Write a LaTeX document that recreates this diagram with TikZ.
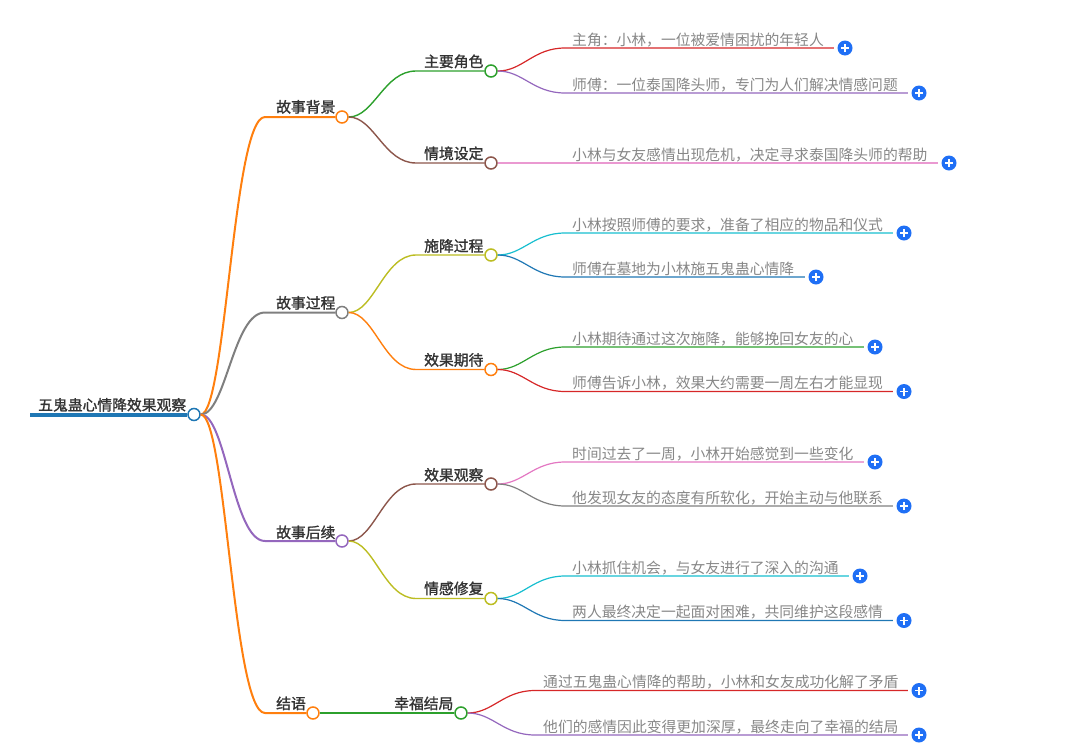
\documentclass[tikz,border=0pt]{standalone}
\usepackage{fontspec}
\setmainfont{Noto Sans CJK SC}
\newfontfamily\topicfont[FakeBold=1.4]{Noto Sans CJK SC}
\definecolor{cblue}{HTML}{1F77B4}
\definecolor{corange}{HTML}{FF7F0E}
\definecolor{cgreen}{HTML}{2CA02C}
\definecolor{cred}{HTML}{D62728}
\definecolor{cpurple}{HTML}{9467BD}
\definecolor{cbrown}{HTML}{8C564B}
\definecolor{cpink}{HTML}{E377C2}
\definecolor{cgrey}{HTML}{7F7F7F}
\definecolor{colive}{HTML}{BCBD22}
\definecolor{cteal}{HTML}{17BECF}
\definecolor{cplus}{HTML}{1F6FF5}
\tikzset{
  topic/.style={anchor=base west, inner sep=0pt, text=black!80, font=\fontsize{14.8pt}{16pt}\selectfont\topicfont},
  leaf/.style={anchor=base west, inner sep=0pt, text=black!47, font=\fontsize{14.8pt}{16pt}\selectfont},
  dot/.style={circle, fill=white, line width=1.5pt, minimum size=12pt, inner sep=0pt},
  plusbtn/.style={circle, fill=cplus, minimum size=15pt, inner sep=0pt, path picture={
      \draw[white, line width=1.3pt] ([xshift=-4pt]path picture bounding box.center) -- ([xshift=4pt]path picture bounding box.center);
      \draw[white, line width=1.3pt] ([yshift=-4pt]path picture bounding box.center) -- ([yshift=4pt]path picture bounding box.center);}},
  rootline/.style={line width=2pt},
  midline/.style={line width=1.4pt},
  leafline/.style={line width=1.2pt, shorten >=3.5pt},
}
\begin{document}
\begin{tikzpicture}[x=1pt, y=-1pt]
  \useasboundingbox (0,0) rectangle (1080,753);
  % root
  \node[topic] (root) at (38,410.5) {五鬼蛊心情降效果观察};
  \node[dot, draw=cblue] (rootdot) at (194,414.5) {};
  \coordinate (rootstart) at (30,414.5);
  \draw[cblue, line width=4pt] (rootstart) -- (rootdot);

  % first level
  \node[topic] (bg) at (276,112.5) {故事背景};
  \node[topic] (gc) at (276,308.5) {故事过程};
  \node[topic] (hx) at (276,538) {故事后续};
  \node[topic] (jy) at (276,709) {结语};
  \node[dot, draw=corange] (bgdot) at (342,117) {};
  \node[dot, draw=cgrey] (gcdot) at (342,312.5) {};
  \node[dot, draw=cpurple] (hxdot) at (342,541) {};
  \node[dot, draw=corange] (jydot) at (313,713) {};
  \coordinate (bgs) at (265,117);
  \coordinate (gcs) at (265,312.5);
  \coordinate (hxs) at (265,541);
  \coordinate (jys) at (265,713);
  \draw[corange, rootline] (rootdot) .. controls +(32,0) and +(-32,0) .. (bgs) -- (bgdot);
  \draw[cgrey, rootline] (rootdot) .. controls +(32,0) and +(-32,0) .. (gcs) -- (gcdot);
  \draw[cpurple, rootline] (rootdot) .. controls +(32,0) and +(-32,0) .. (hxs) -- (hxdot);
  \draw[corange, rootline] (rootdot) .. controls +(32,0) and +(-32,0) .. (jys) -- (jydot);

  % second level
  \node[topic] (zy) at (424,67) {主要角色};
  \node[topic] (qj) at (424,159) {情境设定};
  \node[topic] (sj) at (424,251.5) {施降过程};
  \node[topic] (xq) at (424,365.5) {效果期待};
  \node[topic] (xg) at (424,480.5) {效果观察};
  \node[topic] (qg) at (424,594) {情感修复};
  \node[topic] (xf) at (394,709) {幸福结局};
  \node[dot, draw=cgreen] (zydot) at (491,71) {};
  \node[dot, draw=cbrown] (qjdot) at (491,163) {};
  \node[dot, draw=colive] (sjdot) at (491,255) {};
  \node[dot, draw=corange] (xqdot) at (491,369.5) {};
  \node[dot, draw=cbrown] (xgdot) at (491,484) {};
  \node[dot, draw=colive] (qgdot) at (491,598.5) {};
  \node[dot, draw=cgreen] (xfdot) at (461,713) {};
  \coordinate (zys) at (416,71);
  \coordinate (qjs) at (416,163);
  \coordinate (sjs) at (416,255);
  \coordinate (xqs) at (416,369.5);
  \coordinate (xgs) at (416,484);
  \coordinate (qgs) at (416,598.5);
  \draw[cgreen, midline] (bgdot) .. controls +(32,0) and +(-32,0) .. (zys) -- (zydot);
  \draw[cbrown, midline] (bgdot) .. controls +(32,0) and +(-32,0) .. (qjs) -- (qjdot);
  \draw[colive, midline] (gcdot) .. controls +(32,0) and +(-32,0) .. (sjs) -- (sjdot);
  \draw[corange, midline] (gcdot) .. controls +(32,0) and +(-32,0) .. (xqs) -- (xqdot);
  \draw[cbrown, midline] (hxdot) .. controls +(32,0) and +(-32,0) .. (xgs) -- (xgdot);
  \draw[colive, midline] (hxdot) .. controls +(32,0) and +(-32,0) .. (qgs) -- (qgdot);
  \draw[cgreen, midline] (jydot) -- (xfdot);

  % leaves
  \node[leaf] (a) at (572,45) {主角：小林，一位被爱情困扰的年轻人};
  \node[leaf] (b) at (572,90) {师傅：一位泰国降头师，专门为人们解决情感问题};
  \node[leaf] (c) at (572,160) {小林与女友感情出现危机，决定寻求泰国降头师的帮助};
  \node[leaf] (d) at (572,230) {小林按照师傅的要求，准备了相应的物品和仪式};
  \node[leaf] (e) at (572,274) {师傅在墓地为小林施五鬼蛊心情降};
  \node[leaf] (f) at (572,344) {小林期待通过这次施降，能够挽回女友的心};
  \node[leaf] (g) at (572,388) {师傅告诉小林，效果大约需要一周左右才能显现};
  \node[leaf] (h) at (572,459) {时间过去了一周，小林开始感觉到一些变化};
  \node[leaf] (i) at (572,503) {他发现女友的态度有所软化，开始主动与他联系};
  \node[leaf] (j) at (572,573) {小林抓住机会，与女友进行了深入的沟通};
  \node[leaf] (k) at (572,617) {两人最终决定一起面对困难，共同维护这段感情};
  \node[leaf] (l) at (543,687) {通过五鬼蛊心情降的帮助，小林和女友成功化解了矛盾};
  \node[leaf] (m) at (543,732) {他们的感情因此变得更加深厚，最终走向了幸福的结局};

  \node[plusbtn] (ap) at (845,48) {};
  \node[plusbtn] (bp) at (919,93) {};
  \node[plusbtn] (cp) at (949,163) {};
  \node[plusbtn] (dp) at (904,233) {};
  \node[plusbtn] (ep) at (816,277) {};
  \node[plusbtn] (fp) at (875,347) {};
  \node[plusbtn] (gp) at (904,391.5) {};
  \node[plusbtn] (hp) at (875,462) {};
  \node[plusbtn] (ip) at (904,506) {};
  \node[plusbtn] (jp) at (860,576) {};
  \node[plusbtn] (kp) at (904,620.5) {};
  \node[plusbtn] (lp) at (919,690.5) {};
  \node[plusbtn] (mp) at (919,735) {};

  \coordinate (as) at (565,48);
  \coordinate (bs) at (565,93);
  \coordinate (cs) at (565,163);
  \coordinate (ds) at (565,233);
  \coordinate (es) at (565,277);
  \coordinate (fs) at (565,347);
  \coordinate (gs) at (565,391.5);
  \coordinate (hs) at (565,462);
  \coordinate (is) at (565,506);
  \coordinate (js) at (565,576);
  \coordinate (ks) at (565,620.5);
  \coordinate (ls) at (535,690.5);
  \coordinate (ms) at (535,735);

  \draw[cred, leafline] (zydot) .. controls +(32,0) and +(-32,0) .. (as) -- (ap);
  \draw[cpurple, leafline] (zydot) .. controls +(32,0) and +(-32,0) .. (bs) -- (bp);
  \draw[cpink!75!white, leafline] (qjdot) -- (cs) -- (cp);
  \draw[cteal, leafline] (sjdot) .. controls +(32,0) and +(-32,0) .. (ds) -- (dp);
  \draw[cblue, leafline] (sjdot) .. controls +(32,0) and +(-32,0) .. (es) -- (ep);
  \draw[cgreen, leafline] (xqdot) .. controls +(32,0) and +(-32,0) .. (fs) -- (fp);
  \draw[cred, leafline] (xqdot) .. controls +(32,0) and +(-32,0) .. (gs) -- (gp);
  \draw[cpink, leafline] (xgdot) .. controls +(32,0) and +(-32,0) .. (hs) -- (hp);
  \draw[cgrey, leafline] (xgdot) .. controls +(32,0) and +(-32,0) .. (is) -- (ip);
  \draw[cteal, leafline] (qgdot) .. controls +(32,0) and +(-32,0) .. (js) -- (jp);
  \draw[cblue, leafline] (qgdot) .. controls +(32,0) and +(-32,0) .. (ks) -- (kp);
  \draw[cred, leafline] (xfdot) .. controls +(32,0) and +(-32,0) .. (ls) -- (lp);
  \draw[cpurple, leafline] (xfdot) .. controls +(32,0) and +(-32,0) .. (ms) -- (mp);
\end{tikzpicture}
\end{document}
